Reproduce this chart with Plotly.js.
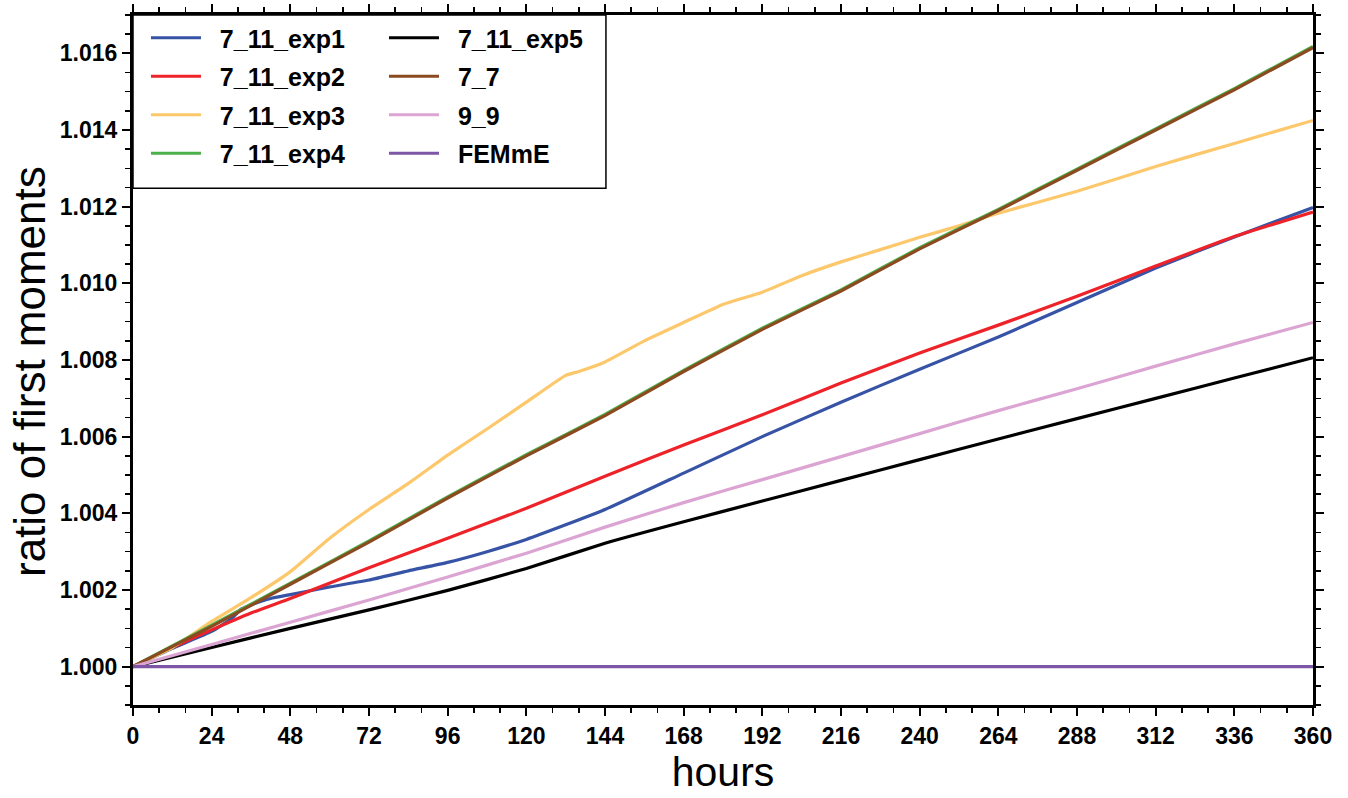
<!DOCTYPE html>
<html>
<head>
<meta charset="utf-8">
<script src="https://cdn.plot.ly/plotly-3.0.1.min.js"></script>
<style>html,body{margin:0;padding:0;background:#fff;}#chart{width:1348px;height:798px;}</style>
</head>
<body>
<div id="chart"></div>
<script>
// ---- data (hours, ratio of first moments) ----
const tStd = [0, 24, 48, 72, 96, 120, 144, 168, 192, 216, 240, 264, 288, 312, 336, 360];

const tExp1 = [0, 12, 24, 30, 33, 36, 42, 48, 60, 72, 84, 96, 108, 120, 132, 144, 168, 192, 216, 240, 264, 288, 312, 336, 360];
const exp1 = [1.00000, 1.00048, 1.00092, 1.00125, 1.00150, 1.00161, 1.00178, 1.00188, 1.00208, 1.00226, 1.00250, 1.00272, 1.00300, 1.00332, 1.00370, 1.00410, 1.00505, 1.00600, 1.00690, 1.00776, 1.00860, 1.00950, 1.01040, 1.01121, 1.01198];

const tExp2 = [0, 12, 24, 36, 48, 72, 96, 120, 144, 168, 192, 216, 240, 264, 288, 312, 336, 360];
const exp2 = [1.00000, 1.00050, 1.00096, 1.00140, 1.00178, 1.00258, 1.00335, 1.00413, 1.00497, 1.00578, 1.00657, 1.00740, 1.00818, 1.00891, 1.00966, 1.01045, 1.01122, 1.01186];

const tExp3 = [0, 12, 24, 36, 48, 60, 72, 84, 96, 108, 120, 132, 136, 144, 156, 168, 180, 192, 204, 216, 228, 240, 252, 264, 288, 312, 336, 360];
const exp3 = [1.00000, 1.00050, 1.00118, 1.00180, 1.00248, 1.00335, 1.00410, 1.00478, 1.00552, 1.00620, 1.00690, 1.00760, 1.00770, 1.00795, 1.00850, 1.00898, 1.00945, 1.00977, 1.01020, 1.01056, 1.01088, 1.01120, 1.01150, 1.01183, 1.01240, 1.01305, 1.01365, 1.01425];

const exp4 = [1.00000, 1.00108, 1.00218, 1.00328, 1.00443, 1.00553, 1.00658, 1.00773, 1.00883, 1.00983, 1.01093, 1.01193, 1.01298, 1.01403, 1.01508, 1.01618];
const exp5 = [1.00000, 1.00050, 1.00100, 1.00148, 1.00199, 1.00256, 1.00322, 1.00378, 1.00432, 1.00486, 1.00540, 1.00594, 1.00647, 1.00700, 1.00753, 1.00806];
const r77  = [1.00000, 1.00105, 1.00215, 1.00325, 1.00440, 1.00550, 1.00655, 1.00770, 1.00880, 1.00980, 1.01090, 1.01190, 1.01295, 1.01400, 1.01505, 1.01615];
const r99  = [1.00000, 1.00058, 1.00116, 1.00174, 1.00234, 1.00296, 1.00364, 1.00428, 1.00488, 1.00548, 1.00608, 1.00668, 1.00725, 1.00784, 1.00842, 1.00898];
const femme = [1.00000, 1.00000, 1.00000, 1.00000, 1.00000, 1.00000, 1.00000, 1.00000, 1.00000, 1.00000, 1.00000, 1.00000, 1.00000, 1.00000, 1.00000, 1.00000];

const names = ['7_11_exp1', '7_11_exp2', '7_11_exp3', '7_11_exp4', '7_11_exp5', '7_7', '9_9', 'FEMmE'];
const xTickVals = [0, 24, 48, 72, 96, 120, 144, 168, 192, 216, 240, 264, 288, 312, 336, 360];
const yTickVals = [1.000, 1.002, 1.004, 1.006, 1.008, 1.010, 1.012, 1.014, 1.016];
const yTickText = ['1.000', '1.002', '1.004', '1.006', '1.008', '1.010', '1.012', '1.014', '1.016'];
const xTitle = 'hours';
const yTitle = 'ratio of first moments';

// ---- styling ----
const colors = ['#3753a5', '#ee2229', '#fcc86b', '#4db14b', '#000000', '#8b4a20', '#dba4d2', '#7d57a6'];
const LW = 3.2;
const FAM = 'Liberation Sans, Arial, sans-serif';
const legFont = {family: FAM, size: 25, color: '#000', weight: 'bold'};
const PAD = '\u00a0\u00a0';

function tr(i, x, y, leg) {
  return {
    x: x, y: y, name: PAD + names[i], type: 'scatter', mode: 'lines',
    line: {color: colors[i], width: LW, shape: 'spline', smoothing: 0.4},
    legend: leg, legendgroup: 'g' + i
  };
}

const data = [
  tr(0, tExp1, exp1, 'legend'),
  tr(1, tExp2, exp2, 'legend'),
  tr(2, tExp3, exp3, 'legend'),
  tr(3, tStd, exp4, 'legend'),
  tr(4, tStd, exp5, 'legend2'),
  tr(5, tStd, r77, 'legend2'),
  tr(6, tStd, r99, 'legend2'),
  tr(7, tStd, femme, 'legend2')
];

const tickFont = {family: FAM, size: 23, color: '#000', weight: 'bold'};

const legBase = {
  font: legFont, bgcolor: 'rgba(0,0,0,0)', borderwidth: 0,
  yanchor: 'top', xanchor: 'left', y: 1.0,
  itemwidth: 50, tracegroupgap: 3, orientation: 'v'
};

const layout = {
  width: 1348, height: 798,
  margin: {l: 133, r: 35, t: 15, b: 93},
  paper_bgcolor: '#fff', plot_bgcolor: '#fff',
  showlegend: true,
  legend: Object.assign({}, legBase, {x: 0.011}),
  legend2: Object.assign({}, legBase, {x: 0.2127}),
  xaxis: {
    range: [0, 360], tickvals: xTickVals,
    ticks: 'outside', ticklen: 8, tickwidth: 2, tickcolor: '#000',
    minor: {dtick: 8, tick0: 0, ticks: 'outside', ticklen: 5, tickwidth: 1.5, tickcolor: '#000'},
    showline: true, linecolor: '#000', linewidth: 3, mirror: 'ticks',
    showgrid: false, zeroline: false,
    tickfont: tickFont,
    title: {text: xTitle, font: {family: FAM, size: 41, color: '#000'}, standoff: 6}
  },
  yaxis: {
    range: [0.999, 1.017], tickvals: yTickVals, ticktext: yTickText,
    ticks: 'outside', ticklen: 8, tickwidth: 2, tickcolor: '#000',
    minor: {dtick: 0.0005, tick0: 0.999, ticks: 'outside', ticklen: 5, tickwidth: 1.5, tickcolor: '#000'},
    showline: true, linecolor: '#000', linewidth: 3, mirror: 'ticks',
    showgrid: false, zeroline: false,
    tickfont: tickFont
  },
  annotations: [{
    text: yTitle, xref: 'paper', yref: 'paper', x: 0, y: 0.4826,
    xshift: -104, xanchor: 'center', yanchor: 'middle', textangle: -90,
    showarrow: false, font: {family: FAM, size: 44, color: '#000'}
  }],
  shapes: [{
    type: 'rect', xref: 'paper', yref: 'paper',
    x0: 0, x1: 0.4008, y0: 0.749, y1: 1,
    line: {color: '#000', width: 1.5}, fillcolor: 'rgba(0,0,0,0)', layer: 'above'
  }]
};

Plotly.newPlot('chart', data, layout, {displayModeBar: false, staticPlot: true});
</script>
</body>
</html>
